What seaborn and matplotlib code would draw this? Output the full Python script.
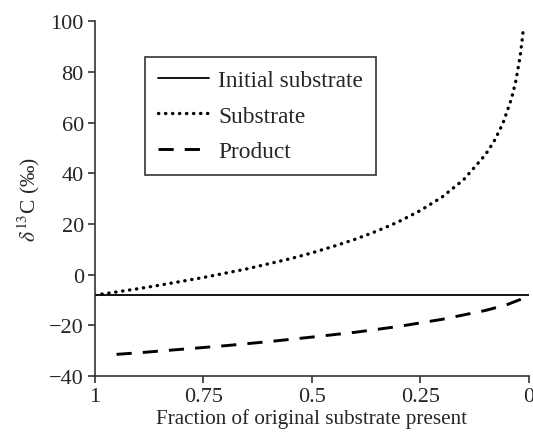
import matplotlib
matplotlib.use("Agg")
import matplotlib.pyplot as plt
import numpy as np
import pandas as pd
import seaborn as sns

# values
initial_f = [1.0, 0.0]
initial_d = [-8.0, -8.0]

substrate_f = [1.0, 0.95, 0.9, 0.85, 0.8, 0.75, 0.7, 0.65, 0.6, 0.55, 0.5, 0.45,
               0.4, 0.35, 0.3, 0.25, 0.2, 0.15, 0.1, 0.08, 0.06, 0.04, 0.03,
               0.02, 0.015, 0.0125]
substrate_d = [-8.0, -6.8, -5.5, -4.1, -2.6, -1.1, 0.6, 2.3, 4.3, 6.3, 8.6, 11.2,
               14.0, 17.2, 20.9, 25.3, 30.6, 37.5, 47.3, 52.6, 59.5, 69.3, 76.2,
               85.9, 92.8, 97.0]

product_f = [0.95, 0.9, 0.8, 0.7, 0.6, 0.5, 0.4, 0.3, 0.2, 0.1, 0.05, 0.02, 0.0]
product_d = [-31.4, -30.8, -29.4, -28.0, -26.4, -24.6, -22.7, -20.4, -17.6,
             -14.1, -11.8, -9.8, -8.2]

xticks = [1, 0.75, 0.5, 0.25, 0]
xtick_labels = ["1", "0.75", "0.5", "0.25", "0"]
yticks = [-40, -20, 0, 20, 40, 60, 80, 100]

sns.set_style("ticks")
plt.rcParams["font.family"] = ["Liberation Serif", "DejaVu Serif"]
plt.rcParams["mathtext.fontset"] = "stix"
plt.rcParams["axes.unicode_minus"] = True

fig = plt.figure(figsize=(5.33, 4.35), dpi=100)
ax = fig.add_axes([0.178, 0.133, 0.814, 0.816])

sns.lineplot(x=initial_f, y=initial_d, ax=ax, color="black", linewidth=1.3,
             label="Initial substrate")
sns.lineplot(x=substrate_f, y=substrate_d, ax=ax, color="black", linewidth=2.4,
             linestyle=(0, (0.1, 2.0)), dash_capstyle="round",
             label="Substrate", sort=False)
sns.lineplot(x=product_f, y=product_d, ax=ax, color="black", linewidth=2.1,
             linestyle=(0, (5.2, 3.8)), label="Product", sort=False)

ax.set_xlim(1, 0)
ax.set_ylim(-40, 100)
ax.set_xticks(xticks)
ax.set_xticklabels(xtick_labels)
ax.set_yticks(yticks)
ax.tick_params(labelsize=16, color="#333333", length=5, width=1.2, pad=3)
ax.set_xlabel("Fraction of original substrate present", fontsize=15.2, labelpad=1)
ax.set_ylabel(r"$\delta^{13}$C (‰)", fontsize=15.5, labelpad=5)
for s in ["left", "bottom"]:
    ax.spines[s].set_linewidth(1.2)
    ax.spines[s].set_color("#333333")
sns.despine(ax=ax)

leg = ax.legend(loc="upper left", bbox_to_anchor=(0.115, 0.899),
                borderaxespad=0, fontsize=16.8, handlelength=2.2,
                handletextpad=0.4, fancybox=False, framealpha=1,
                edgecolor="#333333", labelspacing=0.6, borderpad=0.55)
leg.get_frame().set_linewidth(1.2)

fig.savefig("out.png", dpi=100)
